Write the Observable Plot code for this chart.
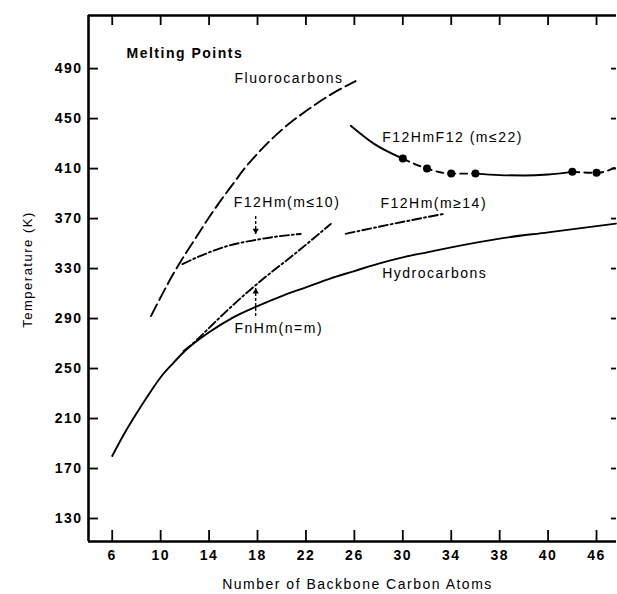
<!DOCTYPE html>
<html>
<head>
<meta charset="utf-8">
<script src="https://cdn.jsdelivr.net/npm/d3@7"></script>
<script src="https://cdn.jsdelivr.net/npm/@observablehq/plot@0.6"></script>
<style>
  html, body { margin: 0; padding: 0; background: #fff; }
  #chart svg text { letter-spacing: 1.5px; }
  #chart g[aria-label="x-axis tick label"] text,
  #chart g[aria-label="y-axis tick label"] text { font-weight: bold; letter-spacing: 1.5px; }
</style>
</head>
<body>
<div id="chart"></div>
<script>
// ---- tick values and labels (as printed) ----
const xTicks = [6, 10, 14, 18, 22, 26, 30, 34, 38, 42, 46];
const xTickLabels = ["6", "10", "14", "18", "22", "26", "30", "34", "38", "40", "46"];
const yTicks = [130, 170, 210, 250, 290, 330, 370, 410, 450, 490];
const xDomain = [4.04, 47.65];
const yDomain = [111.6, 532.5];

// ---- series ----
const hydroX = [6, 7, 8, 9, 10, 11, 12, 14, 16, 18, 20, 22, 24, 26, 28, 30, 32, 34, 38, 42, 46, 47.6];
const hydroY = [180, 198, 214, 229, 243, 254, 264, 279, 291, 300, 308, 315, 322, 328, 334, 339, 343, 347, 354, 359, 364, 366];

const fluoroX = [9.2, 10, 11, 12, 13, 14, 15, 16, 17, 18, 20, 22, 24, 26.1];
const fluoroY = [292, 307, 325, 341, 356, 371, 385, 398, 411, 422, 441, 456, 469, 480];

const f12f12AX = [25.7, 27.6, 30];          // solid start
const f12f12AY = [444.3, 430, 418];
const f12f12BX = [30, 32, 34, 36];          // dashed between dots
const f12f12BY = [418, 410, 406, 406];
const f12f12CX = [36, 38, 40, 42, 44];      // solid middle
const f12f12CY = [406, 404.8, 404.5, 405.3, 407.4];
const f12f12DX = [44, 46, 47.6];            // dashed end
const f12f12DY = [407.4, 406.6, 411];
const f12f12DotX = [30, 32, 34, 36, 44, 46];
const f12f12DotY = [418, 410, 406, 406, 407.4, 406.6];

const f12lowX = [11.8, 13.5, 15.5, 17.85, 19.5, 21.57];
const f12lowY = [333.6, 341, 348, 352.9, 355.5, 357.7];

const f12highX = [25.28, 29, 33.5];
const f12highY = [357.8, 365.4, 374];

const fnhmX = [11.9, 13, 14, 16, 18.25, 21.16, 24.05];
const fnhmY = [264, 273, 282.5, 301, 320, 342.4, 365.7];

// ---- annotations ----
const labelText = ["Fluorocarbons", "F12HmF12 (m\u226422)", "F12Hm(m\u226410)", "F12Hm(m\u226514)", "Hydrocarbons", "FnHm(n=m)"];
const labelX = [16.1, 28.3, 16.03, 28.15, 28.3, 16.1];
const labelY = [482, 434.7, 382.5, 381.7, 326, 282];
const titleText = "Melting Points";
const titleX = 7.18, titleY = 502;

const arrowX = [17.85, 17.85];
const arrowFrom = [372, 292];
const arrowTo = [357.7, 314.4];
const arrowHeadY = [360.5, 311.5];
const arrowHeadRot = [180, 0];

const xLabel = "Number of Backbone Carbon Atoms";
const yLabel = "Temperature (K)";

const zip = (xs, ys) => xs.map((x, i) => ({x, y: ys[i]}));
const lineOpts = {x: "x", y: "y", stroke: "#000", strokeWidth: 1.9, curve: "monotone-x"};
const idx = d3.range(arrowX.length);
const labIdx = d3.range(labelText.length);

const chart = Plot.plot({
  width: 617,
  height: 594,
  marginLeft: 88,
  marginRight: 1,
  marginTop: 15,
  marginBottom: 53,
  style: {fontFamily: "'Liberation Sans', Arial, sans-serif", fontSize: "14px", color: "#000", background: "#fff"},
  x: {domain: xDomain},
  y: {domain: yDomain},
  marks: [
    // frame (left, top, bottom)
    Plot.ruleX([xDomain[0]], {stroke: "#000", strokeWidth: 2.6}),
    Plot.ruleY([yDomain[0]], {stroke: "#000", strokeWidth: 2.4}),
    Plot.ruleY([yDomain[1]], {stroke: "#000", strokeWidth: 2.6}),
    // inward ticks
    Plot.ruleX(xTicks, {x: d => d, y1: yDomain[0], y2: yDomain[0], insetBottom: 11, stroke: "#000", strokeWidth: 1.8}),
    Plot.ruleX(xTicks, {x: d => d, y1: yDomain[1], y2: yDomain[1], insetTop: 10, stroke: "#000", strokeWidth: 1.8}),
    Plot.ruleY(yTicks, {y: d => d, x1: xDomain[0], x2: xDomain[0], insetLeft: 10, stroke: "#000", strokeWidth: 1.8}),
    Plot.ruleY(yTicks, {y: d => d, x1: xDomain[1], x2: xDomain[1], insetRight: 5, stroke: "#000", strokeWidth: 1.8}),
    // tick labels
    Plot.axisX({ticks: xTicks, tickFormat: d => xTickLabels[xTicks.indexOf(d)], tickSize: 0, tickPadding: 9, label: null, fontSize: 14}),
    Plot.axisY({ticks: yTicks, tickSize: 0, tickPadding: 6, label: null, fontSize: 14}),
    // series
    Plot.line(zip(hydroX, hydroY), {...lineOpts}),
    Plot.line(zip(fluoroX, fluoroY), {...lineOpts, strokeDasharray: "13,5"}),
    Plot.line(zip(f12f12AX, f12f12AY), {...lineOpts}),
    Plot.line(zip(f12f12BX, f12f12BY), {...lineOpts, strokeDasharray: "7,5"}),
    Plot.line(zip(f12f12CX, f12f12CY), {...lineOpts}),
    Plot.line(zip(f12f12DX, f12f12DY), {...lineOpts, strokeDasharray: "7,5"}),
    Plot.dot(zip(f12f12DotX, f12f12DotY), {x: "x", y: "y", r: 4, fill: "#000"}),
    Plot.line(zip(f12lowX, f12lowY), {...lineOpts, strokeDasharray: "9,3,2,3"}),
    Plot.line(zip(f12highX, f12highY), {...lineOpts, strokeDasharray: "9,3,2,3"}),
    Plot.line(zip(fnhmX, fnhmY), {...lineOpts, strokeDasharray: "9,3,2,3"}),
    // arrows
    Plot.link(idx, {x1: i => arrowX[i], x2: i => arrowX[i], y1: i => arrowFrom[i], y2: i => arrowTo[i], stroke: "#000", strokeWidth: 1.3, strokeDasharray: "3,2"}),
    Plot.dot(idx, {x: i => arrowX[i], y: i => arrowHeadY[i], symbol: "triangle2", r: 3, fill: "#000", rotate: i => arrowHeadRot[i]}),
    // labels
    Plot.text(labIdx, {x: i => labelX[i], y: i => labelY[i], text: i => labelText[i], textAnchor: "start", fontSize: 14, fill: "#000"}),
    Plot.text([titleText], {x: titleX, y: titleY, text: d => d, textAnchor: "start", fontSize: 14, fontWeight: "bold", fill: "#000"}),
    // axis titles
    Plot.text([xLabel], {frameAnchor: "bottom", textAnchor: "middle", lineAnchor: "bottom", text: d => d, dx: 5, dy: 47, fontSize: 14, fill: "#000"}),
    Plot.text([yLabel], {frameAnchor: "left", textAnchor: "middle", lineAnchor: "middle", text: d => d, rotate: -90, dx: -61, dy: -9, fontSize: 13, fill: "#000"})
  ]
});
document.getElementById("chart").appendChild(chart);
</script>
</body>
</html>
